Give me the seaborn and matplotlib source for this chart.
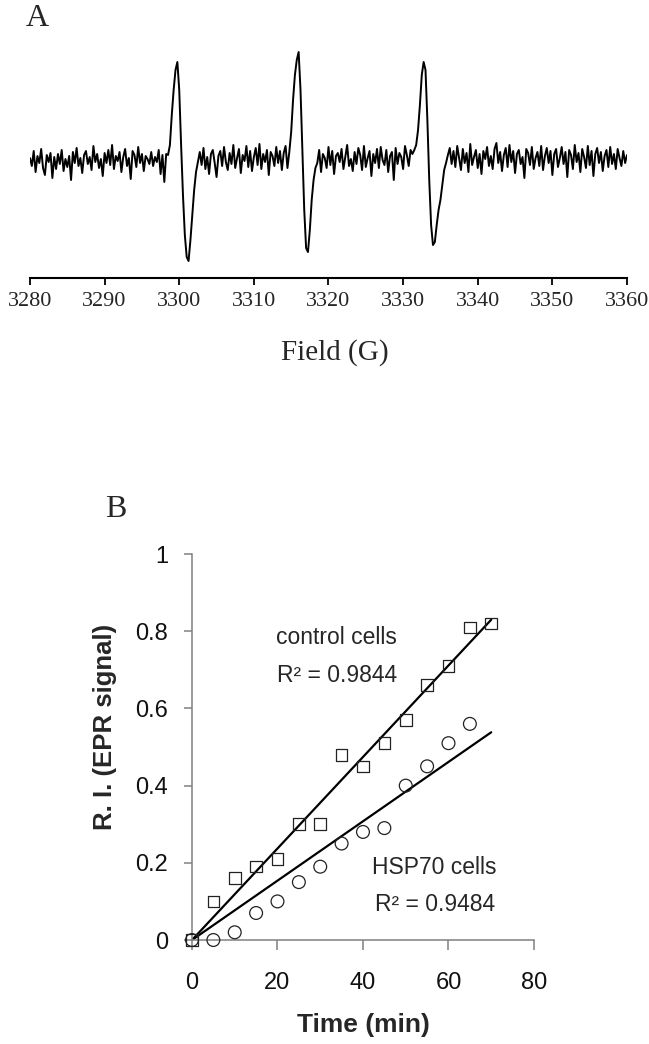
import numpy as np
import matplotlib
matplotlib.use("Agg")
import matplotlib.pyplot as plt
import seaborn as sns

# ---- panel A: EPR spectrum, signal (baseline = 0, 1 unit ~ 1 px)
field_start, field_stop = 3280, 3360
epr_signal = [
    # 3280.00 - 3298.25
    2, -6, 9, -12, 4, -3, 11, -8, -15, 5,
    -2, 7, -18, 3, -9, 6, -4, 10, -11, 1,
    -7, 4, -20, 8, -3, 12, -6, 2, -13, 5,
    9, -4, 3, -10, 14, -2, 6, -8, 1, -16,
    7, -3, 10, -5, 15, -9, 4, -1, 8, -12,
    3, 11, -6, 2, -19, 9, 5, -7, 13, -3,
    6, -11, 4, 1, -4, 8, -6, 3, -2, 10,
    -14, 5, -22, 6,
    # first line 3298.50 - 3302.50
    5, 15, 45, 70, 90, 98, 70, 15, -35, -75, -97, -101, -80, -55, -30, -12, -2,
    # 3302.75 - 3314.50
    8, -5, 12, -9, 3, -14, 6, 10, -3, -17,
    4, 9, -6, 13, -2, -10, 7, -4, 15, -8,
    2, 11, -13, 5, -1, 14, -7, 9, -11, 3,
    12, -5, 16, -9, 6, -2, 10, -15, 8, 4,
    -6, 13, -3, 9, -10, 7, 14, -8,
    # second line 3314.75 - 3318.25
    8, 28, 60, 85, 100, 108, 70, 10, -50, -88, -92, -70, -40, -20, -8,
    # 3318.50 - 3331.25
    -3, 10, -12, 6, 2, -8, 13, -5, 9, -14,
    4, 7, -2, 11, -9, 3, 15, -6, 1, -11,
    8, -4, 12, 5, -10, 14, -7, 2, 9, -16,
    6, -3, 11, -8, 13, 0, -5, 10, -12, 4,
    8, -20, 12, -4, 7, 3, -9, 14, 5, -6,
    10, 6,
    # third line 3331.50 - 3335.75
    10, 15, 30, 55, 85, 98, 90, 40, -20, -65, -85, -82, -65, -50, -40, -25, -10, -3,
    # 3336.00 - 3360.00
    5, 12, -4, 9, -7, 14, 2, -10, 11, -3,
    7, -12, 16, -5, 3, 10, -8, 6, -14, 9,
    1, 13, -6, 4, -9, 11, 17, -3, 8, -11,
    5, 12, -7, 15, -2, 9, -13, 6, 10, -4,
    3, -18, 11, 7, -5, 13, -9, 2, 8, -6,
    14, -10, 4, 12, -3, 9, -15, 6, 11, -7,
    2, 13, -4, 8, -17, 10, 5, -9, 15, -2,
    7, -12, 11, 3, -8, 14, -5, 9, -16, 6,
    12, -3, 8, -11, 4, 10, -7, 13, -4, 6,
    -9, 11, 2, -6, 9, -3, 5,
]
field_ticks = [3280, 3290, 3300, 3310, 3320, 3330, 3340, 3350, 3360]

# ---- panel B: relative intensity vs time
control_time = [0, 5, 10, 15, 20, 25, 30, 35, 40, 45, 50, 55, 60, 65, 70]
control_ri = [0.0, 0.10, 0.16, 0.19, 0.21, 0.30, 0.30, 0.48, 0.45, 0.51, 0.57, 0.66, 0.71, 0.81, 0.82]
hsp70_time = [0, 5, 10, 15, 20, 25, 30, 35, 40, 45, 50, 55, 60, 65]
hsp70_ri = [0.0, 0.0, 0.02, 0.07, 0.10, 0.15, 0.19, 0.25, 0.28, 0.29, 0.40, 0.45, 0.51, 0.56]
fit_range = [0, 70]
time_ticks = [0, 20, 40, 60, 80]
ri_ticks = [0, 0.2, 0.4, 0.6, 0.8, 1.0]
ri_tick_labels = ["0", "0.2", "0.4", "0.6", "0.8", "1"]

sns.set_style("white")
serif = "Liberation Serif"
sans = "Liberation Sans"
plt.rcParams["font.family"] = [sans, "DejaVu Sans"]

fig = plt.figure(figsize=(6.49, 10.44), dpi=100)

# ---------------- A
ax_a = fig.add_axes([0.0462, 0.7337, 0.9199, 0.228])
field = np.linspace(field_start, field_stop, len(epr_signal))
sns.lineplot(x=field, y=epr_signal, ax=ax_a, color="black", lw=1.4, estimator=None)
ax_a.set_xlim(field_start, field_stop)
ax_a.set_ylim(-118, 120)
for s in ["top", "right", "left"]:
    ax_a.spines[s].set_visible(False)
ax_a.spines["bottom"].set_color("black")
ax_a.spines["bottom"].set_linewidth(1.5)
ax_a.set_yticks([])
ax_a.set_xticks(field_ticks)
ax_a.set_xticklabels([str(t) for t in field_ticks], family=serif, fontsize=16)
ax_a.tick_params(axis="x", direction="out", length=5, width=1.3, color="black", pad=5,
                 bottom=True)
fig.text(0.057, 0.982, "A", family=serif, fontsize=23, ha="center", va="center")
fig.text(0.516, 0.662, "Field (G)", family=serif, fontsize=21, ha="center", va="center")

# ---------------- B
ax_b = fig.add_axes([0.2958, 0.0996, 0.527, 0.3697])
for t, r, mk, sz in [(control_time, control_ri, "s", 70), (hsp70_time, hsp70_ri, "o", 85)]:
    t = np.array(t, dtype=float)
    r = np.array(r)
    slope = np.sum(t * r) / np.sum(t * t)  # trendline through origin
    xs = np.array(fit_range, dtype=float)
    sns.lineplot(x=xs, y=slope * xs, ax=ax_b, color="black", lw=1.6, zorder=2)
    sns.scatterplot(x=t, y=r, ax=ax_b, marker=mk, s=sz, facecolors="none",
                    edgecolor="#222222", linewidth=0.9, zorder=3, clip_on=False)

ax_b.set_xlim(0, 80)
ax_b.set_ylim(0, 1)
for s in ["top", "right"]:
    ax_b.spines[s].set_visible(False)
for s in ["left", "bottom"]:
    ax_b.spines[s].set_color("#808080")
    ax_b.spines[s].set_linewidth(1.1)
ax_b.set_xticks(time_ticks)
ax_b.set_xticklabels([str(t) for t in time_ticks], fontsize=17)
ax_b.set_yticks(ri_ticks)
ax_b.set_yticklabels(ri_tick_labels, fontsize=17)
ax_b.tick_params(axis="x", direction="out", length=7, width=1.1, color="#808080",
                 pad=16, bottom=True, labelcolor="#111111")
ax_b.tick_params(axis="y", direction="out", length=6, width=1.1, color="#808080",
                 pad=11, left=True, labelcolor="#111111")

ax_b.set_xlabel("Time (min)", fontsize=19, fontweight="bold")
ax_b.xaxis.set_label_coords(0.5, -0.19)
ax_b.set_ylabel("R. I. (EPR signal)", fontsize=18.5, fontweight="bold")
ax_b.yaxis.set_label_coords(-0.22, 0.552)

ax_b.text(19.6, 0.784, "control cells", fontsize=16.5, va="center", ha="left")
ax_b.text(19.9, 0.686, "R² = 0.9844", fontsize=16.5, va="center", ha="left")
ax_b.text(42.1, 0.189, "HSP70 cells", fontsize=16.5, va="center", ha="left")
ax_b.text(42.8, 0.091, "R² = 0.9484", fontsize=16.5, va="center", ha="left")

fig.text(0.179, 0.5115, "B", family=serif, fontsize=23, ha="center", va="center")

fig.savefig("out.png", dpi=100)
